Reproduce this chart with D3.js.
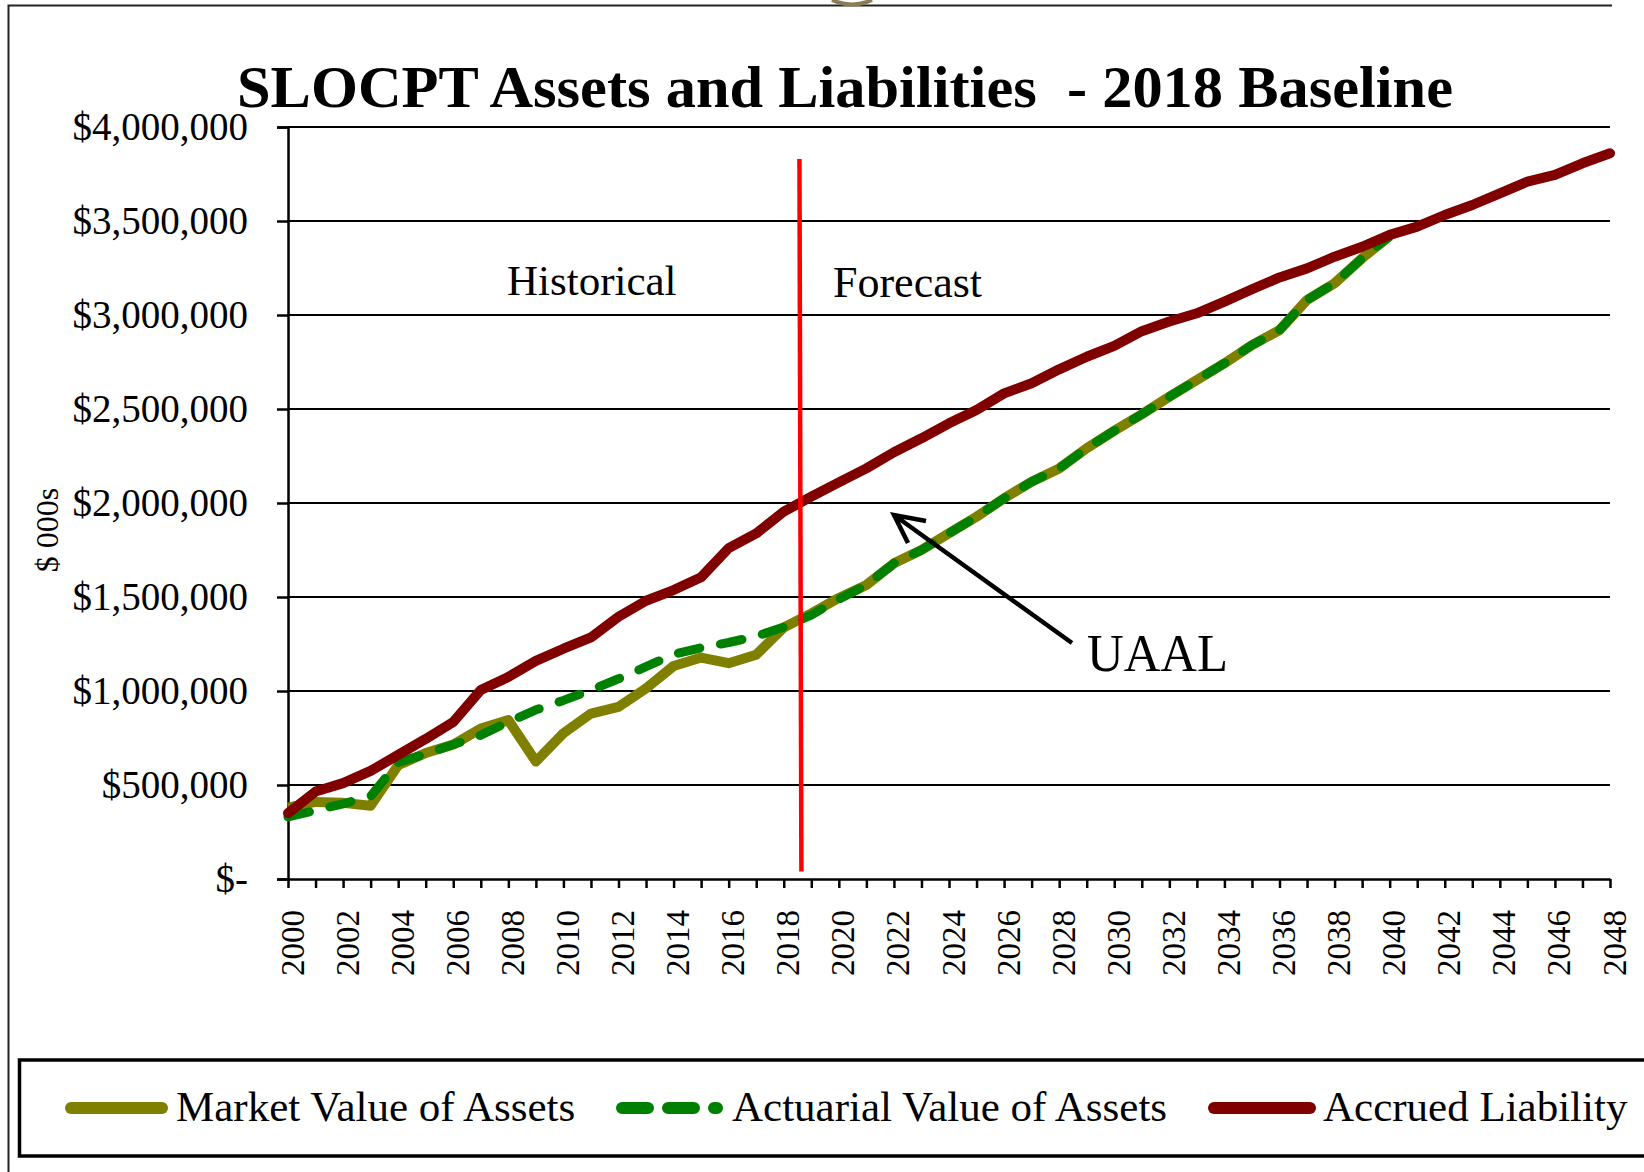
<!DOCTYPE html>
<html>
<head>
<meta charset="utf-8">
<script src="https://cdn.jsdelivr.net/npm/d3@7/dist/d3.min.js"></script>
<style>
  html, body { margin: 0; padding: 0; background: #fff; }
  svg { display: block; font-family: 'Liberation Serif', 'Times New Roman', serif; }
</style>
</head>
<body>
<div id="chart"></div>
<script>
'use strict';

// categories
var years = [2000, 2001, 2002, 2003, 2004, 2005, 2006, 2007, 2008, 2009,
    2010, 2011, 2012, 2013, 2014, 2015, 2016, 2017, 2018, 2019,
    2020, 2021, 2022, 2023, 2024, 2025, 2026, 2027, 2028, 2029,
    2030, 2031, 2032, 2033, 2034, 2035, 2036, 2037, 2038, 2039,
    2040, 2041, 2042, 2043, 2044, 2045, 2046, 2047, 2048];

// $000s
var marketValue = [380000, 410000, 405000, 390000, 605000, 670000, 715000, 800000, 845000, 625000,
    775000, 880000, 915000, 1014000, 1133000, 1178000, 1148000, 1193000, 1338000, 1413000,
    1495000, 1564000, 1679000, 1750000, 1839000, 1927000, 2025000, 2113000, 2184000, 2291000,
    2384000, 2472000, 2565000, 2654000, 2743000, 2840000, 2920000, 3080000, 3169000, 3302000,
    3420000, null, null, null, null, null, null, null, null];

var actuarialValue = [330000, 365000, 400000, 440000, 620000, 665000, 715000, 765000, 835000, 900000,
    950000, 1005000, 1065000, 1129000, 1195000, 1230000, 1258000, 1291000, 1340000, 1404000,
    1488000, 1564000, 1679000, 1750000, 1839000, 1927000, 2025000, 2113000, 2184000, 2291000,
    2384000, 2472000, 2565000, 2654000, 2743000, 2840000, 2920000, 3080000, 3169000, 3302000,
    3420000, null, null, null, null, null, null, null, null];

var accruedLiability = [350000, 465000, 510000, 575000, 660000, 745000, 835000, 1005000, 1075000, 1160000,
    1225000, 1285000, 1395000, 1480000, 1537000, 1605000, 1760000, 1838000, 1954000, 2034000,
    2110000, 2184000, 2270000, 2344000, 2424000, 2495000, 2583000, 2637000, 2711000, 2778000,
    2836000, 2914000, 2965000, 3009000, 3071000, 3137000, 3200000, 3248000, 3310000, 3363000,
    3426000, 3470000, 3532000, 3585000, 3647000, 3709000, 3745000, 3807000, 3860000];

var yTicks = [0, 500000, 1000000, 1500000, 2000000, 2500000, 3000000, 3500000, 4000000];

var seriesNames = ['Market Value of Assets', 'Actuarial Value of Assets', 'Accrued Liability'];

var W = 1644, H = 1172;

var svg = d3.select('#chart')
    .append('svg')
    .attr('width', W)
    .attr('height', H);

svg.append('rect').attr('width', W).attr('height', H).attr('fill', '#fff');

// slide frame + bit of logo at top
svg.append('path')
    .attr('d', 'M8.5,1172 L8.5,5.5 L1612,5.5')
    .attr('fill', 'none')
    .attr('stroke', '#222')
    .attr('stroke-width', 2);
svg.append('path')
    .attr('d', 'M832,0 Q852,9 872,0')
    .attr('fill', 'none')
    .attr('stroke', '#8b7d55')
    .attr('stroke-width', 4);

var x = d3.scaleLinear().domain([2000, 2048]).range([288, 1610]);
var y = d3.scaleLinear().domain([0, 4000000]).range([879, 127]);

// gridlines
svg.append('g')
    .selectAll('line')
    .data(yTicks.slice(1))
    .enter().append('line')
    .attr('x1', x(2000))
    .attr('x2', x(2048))
    .attr('y1', function(d) { return y(d); })
    .attr('y2', function(d) { return y(d); })
    .attr('stroke', '#000')
    .attr('stroke-width', 2);

// y axis
var yAxis = svg.append('g')
    .attr('transform', 'translate(' + x(2000) + ',0)')
    .call(d3.axisLeft(y)
        .tickValues(yTicks)
        .tickSize(11)
        .tickPadding(29)
        .tickFormat(function(d) { return d === 0 ? '$-' : d3.format('$,')(d); }));
yAxis.select('.domain').attr('stroke', '#000').attr('stroke-width', 2.5);
yAxis.selectAll('.tick line').attr('stroke', '#000').attr('stroke-width', 2.5);
yAxis.selectAll('.tick text')
    .attr('fill', '#000')
    .style('font-size', '39px')
    .style('font-family', "'Liberation Serif', 'Times New Roman', serif");

// x axis
var xAxis = svg.append('g')
    .attr('transform', 'translate(0,' + y(0) + ')')
    .call(d3.axisBottom(x)
        .tickValues(years)
        .tickSize(9)
        .tickSizeOuter(0)
        .tickFormat(function(d) { return d % 2 === 0 ? String(d) : ''; }));
xAxis.select('.domain').attr('stroke', '#000').attr('stroke-width', 2.5);
xAxis.selectAll('.tick line').attr('stroke', '#000').attr('stroke-width', 2.5);
xAxis.selectAll('.tick text')
    .attr('fill', '#000')
    .attr('x', 0)
    .attr('y', 0)
    .attr('dy', null)
    .attr('text-anchor', 'end')
    .attr('transform', 'translate(15,31) rotate(-90)')
    .style('font-size', '33px')
    .style('font-family', "'Liberation Serif', 'Times New Roman', serif");

// series
function makeLine(values) {
    return d3.line()
        .defined(function(d, i) { return values[i] !== null; })
        .x(function(d) { return x(d); })
        .y(function(d, i) { return y(values[i]); })(years);
}

svg.append('path')
    .attr('d', makeLine(marketValue))
    .attr('fill', 'none')
    .attr('stroke', '#808000')
    .attr('stroke-width', 10)
    .attr('stroke-linejoin', 'round');

svg.append('path')
    .attr('d', makeLine(actuarialValue))
    .attr('fill', 'none')
    .attr('stroke', '#008000')
    .attr('stroke-width', 9)
    .attr('stroke-dasharray', '22,21')
    .attr('stroke-linecap', 'round')
    .attr('stroke-linejoin', 'round');

svg.append('path')
    .attr('d', makeLine(accruedLiability))
    .attr('fill', 'none')
    .attr('stroke', '#800000')
    .attr('stroke-width', 10)
    .attr('stroke-linejoin', 'round')
    .attr('stroke-linecap', 'round');

// historical / forecast divider
svg.append('line')
    .attr('x1', x(2018.57))
    .attr('y1', y(3830000))
    .attr('x2', x(2018.64))
    .attr('y2', y(40000))
    .attr('stroke', '#ff0000')
    .attr('stroke-width', 4.5);

svg.append('text')
    .attr('x', 507)
    .attr('y', 295)
    .style('font-size', '43px')
    .text('Historical');

svg.append('text')
    .attr('x', 833)
    .attr('y', 297)
    .style('font-size', '44px')
    .text('Forecast');

// UAAL arrow
svg.append('path')
    .attr('d', 'M1072,643 L894,515 M926,521 L894,515 L908,543')
    .attr('fill', 'none')
    .attr('stroke', '#000')
    .attr('stroke-width', 4.5);

svg.append('text')
    .attr('x', 1087)
    .attr('y', 671)
    .attr('textLength', 141)
    .attr('lengthAdjust', 'spacingAndGlyphs')
    .style('font-size', '53px')
    .text('UAAL');

// y axis title
svg.append('text')
    .attr('transform', 'translate(58,530) rotate(-90)')
    .attr('text-anchor', 'middle')
    .style('font-size', '32px')
    .text('$ 000s');

// chart title
svg.append('text')
    .attr('x', 237)
    .attr('y', 107)
    .attr('textLength', 1216)
    .attr('lengthAdjust', 'spacingAndGlyphs')
    .style('white-space', 'pre')
    .style('font-size', '60px')
    .style('font-weight', 'bold')
    .text('SLOCPT Assets and Liabilities  - 2018 Baseline');

// legend
svg.append('rect')
    .attr('x', 19.5)
    .attr('y', 1060)
    .attr('width', 1680)
    .attr('height', 96)
    .attr('fill', '#fff')
    .attr('stroke', '#000')
    .attr('stroke-width', 3.5);

var legendItems = [
    { name: seriesNames[0], color: '#808000', dash: null, x0: 71, x1: 162, tx: 176 },
    { name: seriesNames[1], color: '#008000', dash: '26,20', x0: 622, x1: 717, tx: 732 },
    { name: seriesNames[2], color: '#800000', dash: null, x0: 1214, x1: 1310, tx: 1323 }
];

var lg = svg.append('g')
    .selectAll('g')
    .data(legendItems)
    .enter().append('g');

lg.append('line')
    .attr('x1', function(d) { return d.x0; })
    .attr('x2', function(d) { return d.x1; })
    .attr('y1', 1108)
    .attr('y2', 1108)
    .attr('stroke', function(d) { return d.color; })
    .attr('stroke-width', 12)
    .attr('stroke-linecap', 'round')
    .attr('stroke-dasharray', function(d) { return d.dash; });

lg.append('text')
    .attr('x', function(d) { return d.tx; })
    .attr('y', 1121)
    .style('font-size', '43px')
    .text(function(d) { return d.name; });
</script>
</body>
</html>
